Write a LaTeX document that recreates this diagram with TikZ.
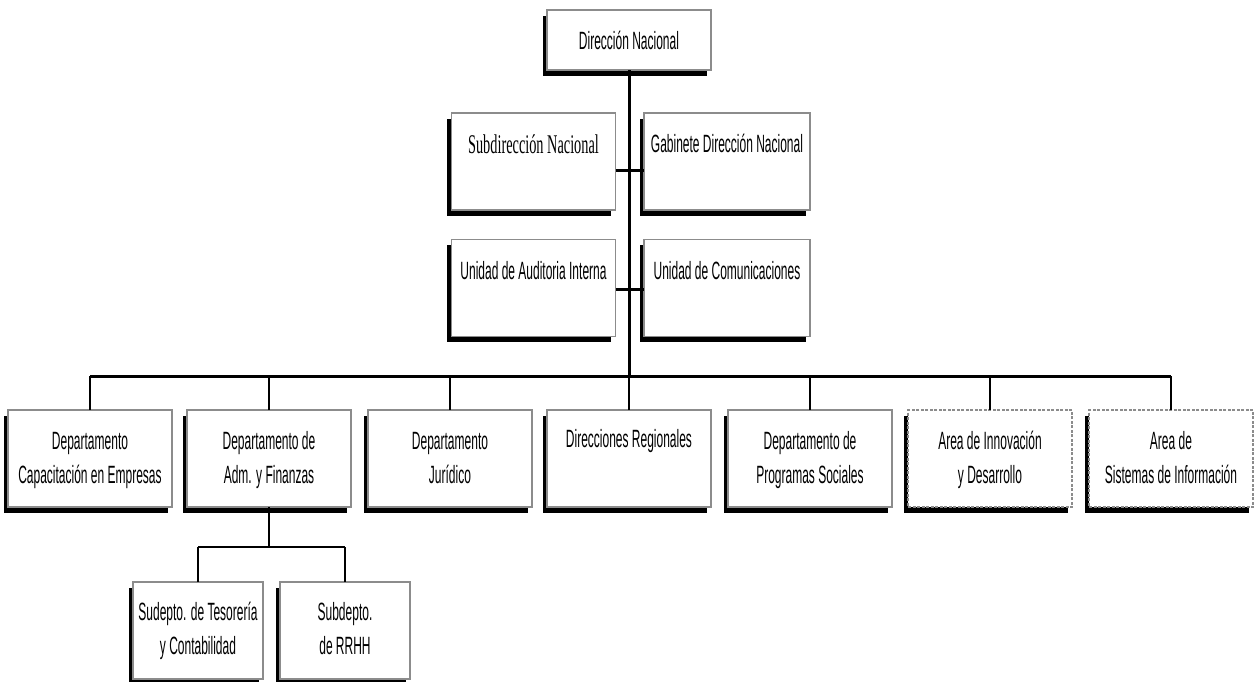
\documentclass[tikz,border=0pt]{standalone}
\usepackage{fontspec}
\usetikzlibrary{shadows}
\newfontfamily\narrowsans[FakeStretch=0.48]{Liberation Sans}
\newfontfamily\narrowserif[FakeStretch=0.53]{Liberation Serif}
\tikzset{
  unitbox/.style={draw=black!45, line width=1.3pt, fill=white, inner sep=0pt, outer sep=0pt,
    minimum width=164pt, minimum height=97pt,
    general shadow={fill=black, shadow xshift=-4.5pt, shadow yshift=-5.5pt}},
  dashbox/.style={unitbox, dash pattern=on 3pt off 1.5pt},
  txt/.style={anchor=base, inner sep=0pt, font=\narrowsans\fontsize{25}{34}\selectfont},
  serif/.style={anchor=base, inner sep=0pt, font=\narrowserif\fontsize{27}{34}\selectfont},
  mainline/.style={line width=3pt, black},
  dropline/.style={line width=1.8pt, black},
}
\newcommand{\twol}[2]{\begin{tabular}[t]{@{}c@{}}#1\\#2\end{tabular}}
\begin{document}
\begin{tikzpicture}[x=1pt,y=-1pt]
\useasboundingbox (0,0) rectangle (1254,681);
% top
\node[unitbox, minimum height=60pt] (dn) at (629,40) {};
\node[txt] (tdn) at (629,49) {Dirección Nacional};
% second level
\node[unitbox] (sub) at (533.5,161.5) {};
\node[serif] (tsub) at (533.5,153) {Subdirección Nacional};
\node[unitbox, minimum width=166pt] (gab) at (727,161.5) {};
\node[txt] (tgab) at (727,152) {Gabinete Dirección Nacional};
\node[unitbox] (aud) at (533.5,288) {};
\node[txt] (taud) at (533.5,279) {Unidad de Auditoria Interna};
\node[unitbox, minimum width=166pt] (com) at (727,288) {};
\node[txt] (tcom) at (727,279) {Unidad de Comunicaciones};
% row
\node[unitbox] (r1) at (90,458.5) {};
\node[txt] (t1) at (90,449) {\twol{Departamento}{Capacitación en Empresas}};
\node[unitbox] (r2) at (269,458.5) {};
\node[txt] (t2) at (269,449) {\twol{Departamento de}{Adm. y Finanzas}};
\node[unitbox] (r3) at (450,458.5) {};
\node[txt] (t3) at (450,449) {\twol{Departamento}{Jurídico}};
\node[unitbox] (r4) at (629,458.5) {};
\node[txt] (t4) at (629,447) {Direcciones Regionales};
\node[unitbox] (r5) at (810,458.5) {};
\node[txt] (t5) at (810,449) {\twol{Departamento de}{Programas Sociales}};
\node[dashbox] (r6) at (990,458.5) {};
\node[txt] (t6) at (990,449) {\twol{Area de Innovación}{y Desarrollo}};
\node[dashbox] (r7) at (1171,458.5) {};
\node[txt] (t7) at (1171,449) {\twol{Area de}{Sistemas de Información}};
% sub level
\node[unitbox, minimum width=130pt] (s1) at (198,630.5) {};
\node[txt] (ts1) at (198,620) {\twol{Sudepto. de Tesorería}{y Contabilidad}};
\node[unitbox, minimum width=130pt] (s2) at (345,630.5) {};
\node[txt] (ts2) at (345,620) {\twol{Subdepto.}{de RRHH}};
% connectors
\coordinate (bus) at (629,376);
\coordinate (c1) at (629,170);
\coordinate (c2) at (629,289);
\coordinate (sbus) at (269,547);
\draw[mainline] (dn.south) -- (bus);
\draw[mainline] (sub.east |- c1) -- (gab.west |- c1);
\draw[mainline] (aud.east |- c2) -- (com.west |- c2);
\draw[mainline] (r1.north |- bus) -- (r7.north |- bus);
\foreach \n in {r1,r2,r3,r4,r5,r6,r7}{
  \draw[dropline] (\n.north |- bus) -- (\n.north);
}
\draw[dropline] (r2.south) -- (sbus);
\draw[dropline] (s1.north |- sbus) -- (s2.north |- sbus);
\draw[dropline] (s1.north |- sbus) -- (s1.north);
\draw[dropline] (s2.north |- sbus) -- (s2.north);
\end{tikzpicture}
\end{document}
